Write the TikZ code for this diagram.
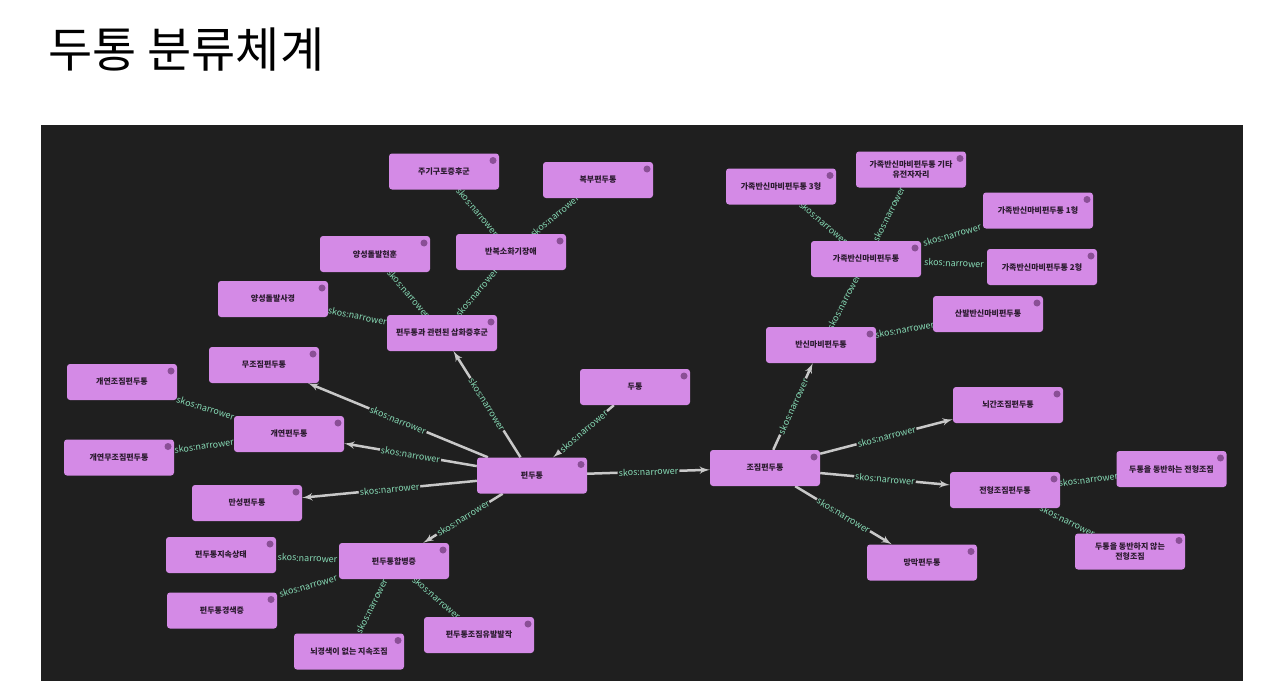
\documentclass[tikz,border=0pt]{standalone}
\usepackage{fontspec}
\setmainfont{Noto Sans CJK KR}
\usepackage{xcolor}
\usepackage{tikz}
\usetikzlibrary{arrows,backgrounds}
\definecolor{panel}{HTML}{1F1F1F}
\definecolor{nodefill}{HTML}{D48AE6}
\definecolor{nodetext}{HTML}{2A1A2E}
\definecolor{dotc}{HTML}{8A4F96}
\definecolor{linegray}{HTML}{C8C8C8}
\definecolor{lblgreen}{HTML}{86D9B4}
\tikzset{edge/.style = {->,> = latex', draw=linegray, line width=2.5pt},
         link/.style = {draw=none},
         lbl/.style = {sloped, font=\fontsize{9}{9}\selectfont, text=lblgreen, fill=panel, inner sep=1pt}}

\begin{document}
\begin{tikzpicture}[x=1pt,y=-1pt,main node/.style={rectangle,rounded corners=3pt,fill=nodefill,minimum width=110pt,minimum height=36pt,align=center,text=nodetext,font=\fontsize{8}{9.5}\selectfont\bfseries,path picture={\fill[dotc] ([xshift=-6pt,yshift=-7pt]path picture bounding box.north east) circle (3.5pt);}}]
                \useasboundingbox (0,0) rectangle (1273,698);
                \node[anchor=west,font=\fontsize{48}{48}\selectfont] (title) at (45,50) {두통 분류체계};

                \node[main node] (1) at (532,475.5) {편두통};
                \node[main node] (2) at (765,468) {조짐편두통};
                \node[main node] (3) at (264,365) {무조짐편두통};
                \node[main node] (4) at (635,387) {두통};
                \node[main node] (5) at (442,333) {편두통과 관련된 삽화증후군};
                \node[main node] (6) at (289,434) {개연편두통};
                \node[main node] (7) at (247,503) {만성편두통};
                \node[main node] (8) at (394,561) {편두통합병증};
                \node[main node] (9) at (273,299) {양성돌발사경};
                \node[main node] (10) at (375,254) {양성돌발현훈};
                \node[main node] (11) at (511,252) {반복소화기장애};
                \node[main node] (12) at (444,171.5) {주기구토증후군};
                \node[main node] (13) at (598,180) {복부편두통};
                \node[main node] (14) at (122,382) {개연조짐편두통};
                \node[main node] (15) at (119,457.5) {개연무조짐편두통};
                \node[main node] (16) at (221,555) {편두통지속상태};
                \node[main node] (17) at (222,610.5) {편두통경색증};
                \node[main node] (18) at (349,651.5) {뇌경색이 없는 지속조짐};
                \node[main node] (19) at (479,635) {편두통조짐유발발작};
                \node[main node] (20) at (821,345) {반신마비편두통};
                \node[main node] (21) at (866,259) {가족반신마비편두통};
                \node[main node] (22) at (988,314) {산발반신마비편두통};
                \node[main node] (23) at (781,186.5) {가족반신마비편두통 3형};
                \node[main node] (24) at (911,169.5) {가족반신마비편두통 기타\\유전자자리};
                \node[main node] (25) at (1038,210.5) {가족반신마비편두통 1형};
                \node[main node] (26) at (1042,267) {가족반신마비편두통 2형};
                \node[main node] (27) at (1008,405) {뇌간조짐편두통};
                \node[main node] (28) at (1005,490) {전형조짐편두통};
                \node[main node] (29) at (922,562.5) {망막편두통};
                \node[main node] (30) at (1171.5,469) {두통을 동반하는 전형조짐};
                \node[main node] (31) at (1130,551.5) {두통을 동반하지 않는\\전형조짐};

                \begin{scope}[on background layer]
                \fill[white] (0,0) rectangle (1273,698);
                \fill[panel] (41,125) rectangle (1243,681);

                \path (1) edge[edge] node[lbl] {skos:narrower} (3);
                \path (1) edge[edge] node[lbl] {skos:narrower} (5);
                \path (4) edge[edge] node[lbl] {skos:narrower} (1);
                \path (1) edge[edge] node[lbl] {skos:narrower} (6);
                \path (1) edge[edge] node[lbl] {skos:narrower} (7);
                \path (1) edge[edge] node[lbl] {skos:narrower} (8);
                \path (1) edge[edge] node[lbl] {skos:narrower} (2);
                \path (2) edge[edge] node[lbl] {skos:narrower} (20);
                \path (2) edge[edge] node[lbl] {skos:narrower} (27);
                \path (2) edge[edge] node[lbl] {skos:narrower} (28);
                \path (2) edge[edge] node[lbl] {skos:narrower} (29);

                \path (5) edge[link] node[lbl] {skos:narrower} (9);
                \path (5) edge[link] node[lbl] {skos:narrower} (10);
                \path (5) edge[link] node[lbl] {skos:narrower} (11);
                \path (11) edge[link] node[lbl] {skos:narrower} (12);
                \path (11) edge[link] node[lbl] {skos:narrower} (13);
                \path (6) edge[link] node[lbl] {skos:narrower} (14);
                \path (6) edge[link] node[lbl] {skos:narrower} (15);
                \path (8) edge[link] node[lbl] {skos:narrower} (16);
                \path (8) edge[link] node[lbl] {skos:narrower} (17);
                \path (8) edge[link] node[lbl] {skos:narrower} (18);
                \path (8) edge[link] node[lbl] {skos:narrower} (19);
                \path (20) edge[link] node[lbl] {skos:narrower} (21);
                \path (20) edge[link] node[lbl] {skos:narrower} (22);
                \path (21) edge[link] node[lbl] {skos:narrower} (23);
                \path (21) edge[link] node[lbl] {skos:narrower} (24);
                \path (21) edge[link] node[lbl] {skos:narrower} (25);
                \path (21) edge[link] node[lbl] {skos:narrower} (26);
                \path (28) edge[link] node[lbl] {skos:narrower} (30);
                \path (28) edge[link] node[lbl] {skos:narrower} (31);
                \end{scope}
            \end{tikzpicture}
\end{document}
